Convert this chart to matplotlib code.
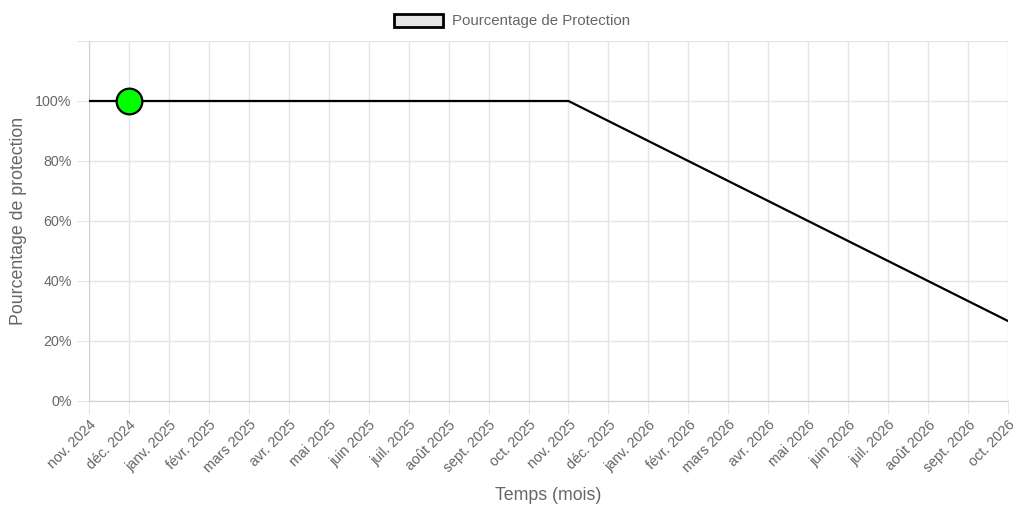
import matplotlib
matplotlib.use('Agg')
import matplotlib.pyplot as plt
import numpy as np

plt.rcParams['font.family'] = ['Liberation Sans', 'DejaVu Sans']

months = ['nov. 2024', 'déc. 2024', 'janv. 2025', 'févr. 2025', 'mars 2025', 'avr. 2025',
          'mai 2025', 'juin 2025', 'juil. 2025', 'août 2025', 'sept. 2025', 'oct. 2025',
          'nov. 2025', 'déc. 2025', 'janv. 2026', 'févr. 2026', 'mars 2026', 'avr. 2026',
          'mai 2026', 'juin 2026', 'juil. 2026', 'août 2026', 'sept. 2026', 'oct. 2026']
protection = [100, 100, 100, 100, 100, 100, 100, 100, 100, 100, 100, 100,
              100, 93.33, 86.67, 80, 73.33, 66.67, 60, 53.33, 46.67, 40, 33.33, 26.67]
current_idx = 1
current_val = 100

grid_c = '#e5e5e5'
text_c = '#666666'

fig = plt.figure(figsize=(10.24, 5.12), dpi=100)
ax = fig.add_axes([89/1024, 111/512, 919/1024, 360/512])

x = np.arange(len(months))
ax.plot(x, protection, color='black', lw=1.6, zorder=3)
ax.plot([current_idx], [current_val], 'o', ms=18.5, mfc='#00ff00', mec='black', mew=1.6, zorder=4)

ax.set_xlim(0, len(months) - 1)
ax.set_ylim(0, 120)
ax.set_yticks(range(0, 121, 20))
ax.set_yticklabels([f'{v}%' for v in range(0, 101, 20)] + [''])
ax.set_xticks(x)
ax.set_xticklabels(months, rotation=45, ha='right', rotation_mode='anchor')

ax.grid(True, color=grid_c, lw=1)
ax.set_axisbelow(True)
for s in ['top', 'right']:
    ax.spines[s].set_visible(False)
ax.spines['left'].set_color('#d0d0d0')
ax.spines['bottom'].set_color('#d0d0d0')
ax.tick_params(colors=text_c, labelsize=10.3, length=9, color=grid_c)
ax.tick_params(axis='x', pad=3)

ax.set_xlabel('Temps (mois)', color=text_c, fontsize=12.8, labelpad=8)
ax.set_ylabel('Pourcentage de protection', color=text_c, fontsize=12.8, labelpad=6)

handle = plt.Rectangle((0, 0), 1, 1, facecolor='#e5e5e5', edgecolor='black', lw=2)
leg = fig.legend([handle], ['Pourcentage de Protection'], loc='upper center',
                 bbox_to_anchor=(0.5, 1.0), frameon=False, fontsize=10.8,
                 handlelength=3.3, handleheight=1.0, handletextpad=0.6)
for t in leg.get_texts():
    t.set_color(text_c)

fig.savefig('out.png', dpi=100)
